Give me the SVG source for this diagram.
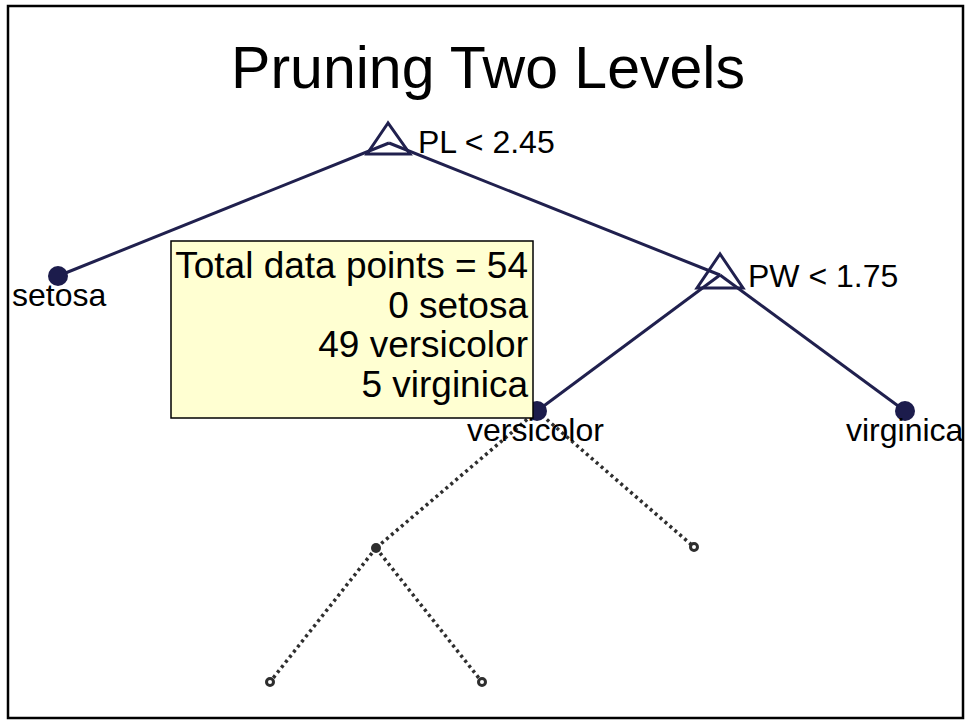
<svg xmlns="http://www.w3.org/2000/svg" width="967" height="723" viewBox="0 0 967 723">
  <defs>
    <style>
      .edge { stroke: #20204e; stroke-width: 3; fill: none; }
      .pruned { stroke: #2e2e2e; stroke-width: 3.5; fill: none; stroke-dasharray: 3 3.5; }
      .leaf { fill: #1c1c4c; }
      .split { fill: none; stroke: #20204e; stroke-width: 3; stroke-linejoin: miter; }
      .lbl { font-family: "Liberation Sans", Arial, sans-serif; font-size: 32px; fill: #000; }
      .tip { font-family: "Liberation Sans", Arial, sans-serif; font-size: 37px; fill: #000; text-anchor: end; }
      .stub { fill: #fff; stroke: #2e2e2e; stroke-width: 3; }
    </style>
  </defs>

  <rect x="0" y="0" width="967" height="723" fill="#fff"/>
  <rect x="8" y="6" width="955" height="712" fill="#fff" stroke="#000" stroke-width="2.5"/>

  <text x="488" y="88" font-family="Liberation Sans, Arial, sans-serif" font-size="59" text-anchor="middle" fill="#000">Pruning Two Levels</text>

  <g id="connectors">
    <line class="edge" x1="389" y1="143" x2="58" y2="276"/>
    <line class="edge" x1="389" y1="143" x2="720" y2="275"/>
    <line class="edge" x1="720" y1="275" x2="537" y2="411"/>
    <line class="edge" x1="720" y1="275" x2="905" y2="411"/>
    <line class="pruned" x1="537" y1="411" x2="376" y2="548"/>
    <line class="pruned" x1="537" y1="411" x2="694" y2="547"/>
    <line class="pruned" x1="376" y1="548" x2="270" y2="682"/>
    <line class="pruned" x1="376" y1="548" x2="482" y2="682"/>
  </g>

  <g id="root">
    <polygon class="split" points="388,123 367,154 410,154"/>
    <text class="lbl" x="418" y="153">PL &lt; 2.45</text>
  </g>

  <g id="setosa">
    <circle class="leaf" cx="58" cy="276" r="10"/>
    <text class="lbl" x="12" y="306">setosa</text>
  </g>

  <g id="pw-split">
    <polygon class="split" points="720,254 697,288 743,288"/>
    <text class="lbl" x="748" y="287">PW &lt; 1.75</text>
  </g>

  <g id="versicolor">
    <circle class="leaf" cx="537" cy="411" r="10"/>
    <text class="lbl" x="467" y="441">versicolor</text>
  </g>

  <g id="virginica">
    <circle class="leaf" cx="905" cy="411" r="10"/>
    <text class="lbl" x="846" y="441">virginica</text>
  </g>

  <g id="pruned-inner">
    <circle cx="376" cy="548" r="5" fill="#2e2e2e"/>
  </g>
  <g id="pruned-leaf-right">
    <circle class="stub" cx="694" cy="547" r="3.5"/>
  </g>
  <g id="pruned-leaf-a">
    <circle class="stub" cx="270" cy="682" r="3.5"/>
  </g>
  <g id="pruned-leaf-b">
    <circle class="stub" cx="482" cy="682" r="3.5"/>
  </g>

  <g id="tooltip">
    <rect x="171" y="241" width="362" height="177" fill="#ffffd2" stroke="#000" stroke-width="1.5"/>
    <text class="tip" x="528" y="278">Total data points = 54</text>
    <text class="tip" x="528" y="318">0 setosa</text>
    <text class="tip" x="528" y="357">49 versicolor</text>
    <text class="tip" x="528" y="397">5 virginica</text>
  </g>
</svg>
